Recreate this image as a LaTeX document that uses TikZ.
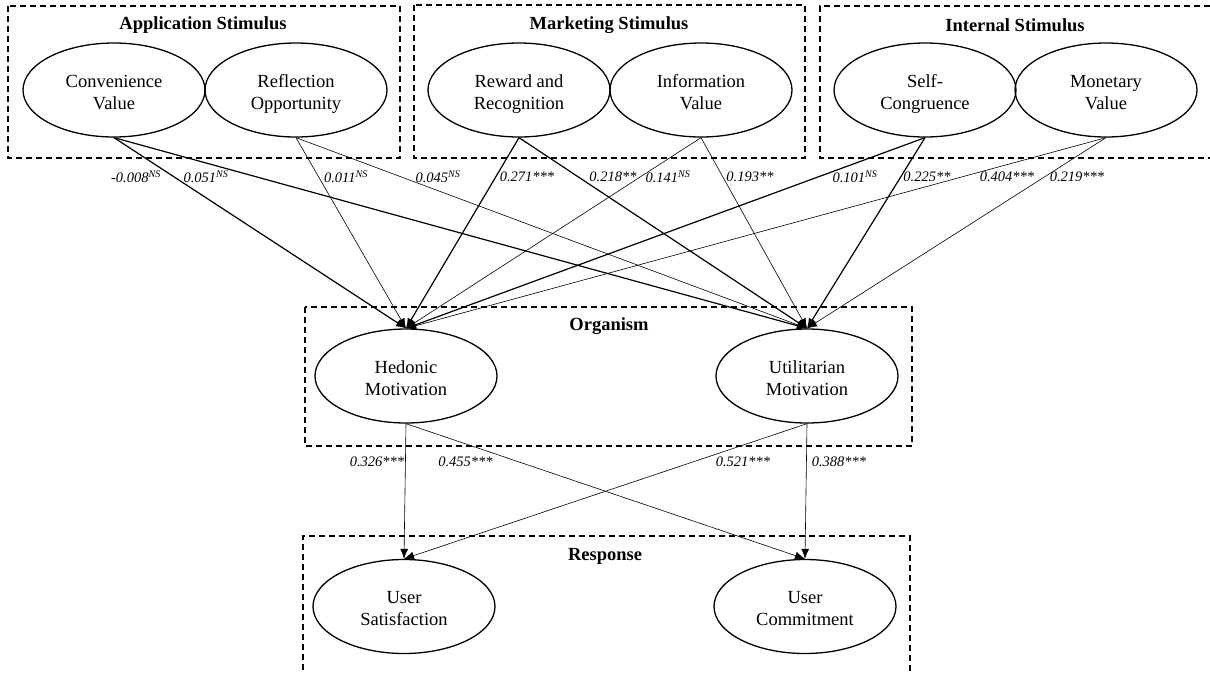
\documentclass[tikz,border=0pt]{standalone}
\usepackage{fontspec}
\setmainfont{Liberation Serif}
\usetikzlibrary{shapes.geometric,arrows.meta}
\newcommand{\twoline}[2]{\rule{0pt}{21pt}#1\\#2\rule[-5pt]{0pt}{5pt}}
\begin{document}
\begin{tikzpicture}[x=1pt,y=-1pt,
  grp/.style={draw, line width=1.2pt, dash pattern=on 6pt off 4pt},
  cons/.style={ellipse, draw, line width=1.3pt, minimum width=182pt, minimum height=94pt, inner sep=0pt, align=center, font=\fontsize{18.5}{22}\selectfont},
  ttl/.style={font=\fontsize{18.5}{22}\selectfont\bfseries, inner sep=0pt},
  coef/.style={font=\fontsize{14.5}{17}\selectfont\itshape, inner sep=0pt},
  tip/.style={-{Latex[length=10pt,width=8pt]}},
  thk/.style={tip, line width=1.2pt},
  thn/.style={tip, line width=0.6pt},
]
\useasboundingbox (0,0) rectangle (1210,673);
\fill[white] (0,0) rectangle (1210,673);

% group boxes
\draw[grp] (8,6) rectangle (400,158);
\draw[grp] (414,5) rectangle (805,158);
\draw[grp] (1230,6) -- (820,6) -- (820,158) -- (1230,158);
\draw[grp] (305,307) rectangle (912,446);
\draw[grp] (303,690) -- (303,536) -- (910,536) -- (910,690);

% titles
\node[ttl] (tapp) at (203,25) {Application Stimulus};
\node[ttl] (tmkt) at (609,25) {Marketing Stimulus};
\node[ttl] (tint) at (1015,25) {Internal Stimulus};
\node[ttl] (torg) at (609,326) {Organism};
\node[ttl] (tres) at (605,556) {Response};

% constructs
\node[cons] (cv) at (114,90) {\twoline{Convenience}{Value}};
\node[cons] (ro) at (296,90) {\twoline{Reflection}{Opportunity}};
\node[cons] (rr) at (519,90) {\twoline{Reward and}{Recognition}};
\node[cons] (iv) at (701,90) {\twoline{Information}{Value}};
\node[cons] (sc) at (925,90) {\twoline{Self-}{Congruence}};
\node[cons] (mv) at (1106,90) {\twoline{Monetary}{Value}};
\node[cons] (hm) at (406,376) {\twoline{Hedonic}{Motivation}};
\node[cons] (um) at (807,376) {\twoline{Utilitarian}{Motivation}};
\node[cons] (us) at (404,606.5) {\twoline{User}{Satisfaction}};
\node[cons] (uc) at (805,606.5) {\twoline{User}{Commitment}};

% stimulus -> organism
\draw[thk] (cv.south) -- (hm.north);
\draw[thk] (cv.south) -- (um.north);
\draw[thn] (ro.south) -- (hm.north);
\draw[thn] (ro.south) -- (um.north);
\draw[thk] (rr.south) -- (hm.north);
\draw[thk] (rr.south) -- (um.north);
\draw[thn] (iv.south) -- (hm.north);
\draw[thn] (iv.south) -- (um.north);
\draw[thk] (sc.south) -- (hm.north);
\draw[thk] (sc.south) -- (um.north);
\draw[thn] (mv.south) -- (hm.north);
\draw[thn] (mv.south) -- (um.north);

% organism -> response
\draw[thn] (hm.south) -- (us.north);
\draw[thn] (hm.south) -- (uc.north);
\draw[thn] (um.south) -- (us.north);
\draw[thn] (um.south) -- (uc.north);

% coefficients
\node[coef] (c1) at (136,177) {-0.008\textsuperscript{NS}};
\node[coef] (c2) at (206,177) {0.051\textsuperscript{NS}};
\node[coef] (c3) at (346,177) {0.011\textsuperscript{NS}};
\node[coef] (c4) at (438,177) {0.045\textsuperscript{NS}};
\node[coef] (c5) at (527,177) {0.271***};
\node[coef] (c6) at (613,177) {0.218**};
\node[coef] (c7) at (668,177) {0.141\textsuperscript{NS}};
\node[coef] (c8) at (750,177) {0.193**};
\node[coef] (c9) at (855,177) {0.101\textsuperscript{NS}};
\node[coef] (c10) at (927,177) {0.225**};
\node[coef] (c11) at (1007,177) {0.404***};
\node[coef] (c12) at (1077,177) {0.219***};
\node[coef] (c13) at (377,462) {0.326***};
\node[coef] (c14) at (465.5,462) {0.455***};
\node[coef] (c15) at (743,462) {0.521***};
\node[coef] (c16) at (839,462) {0.388***};
\end{tikzpicture}
\end{document}
